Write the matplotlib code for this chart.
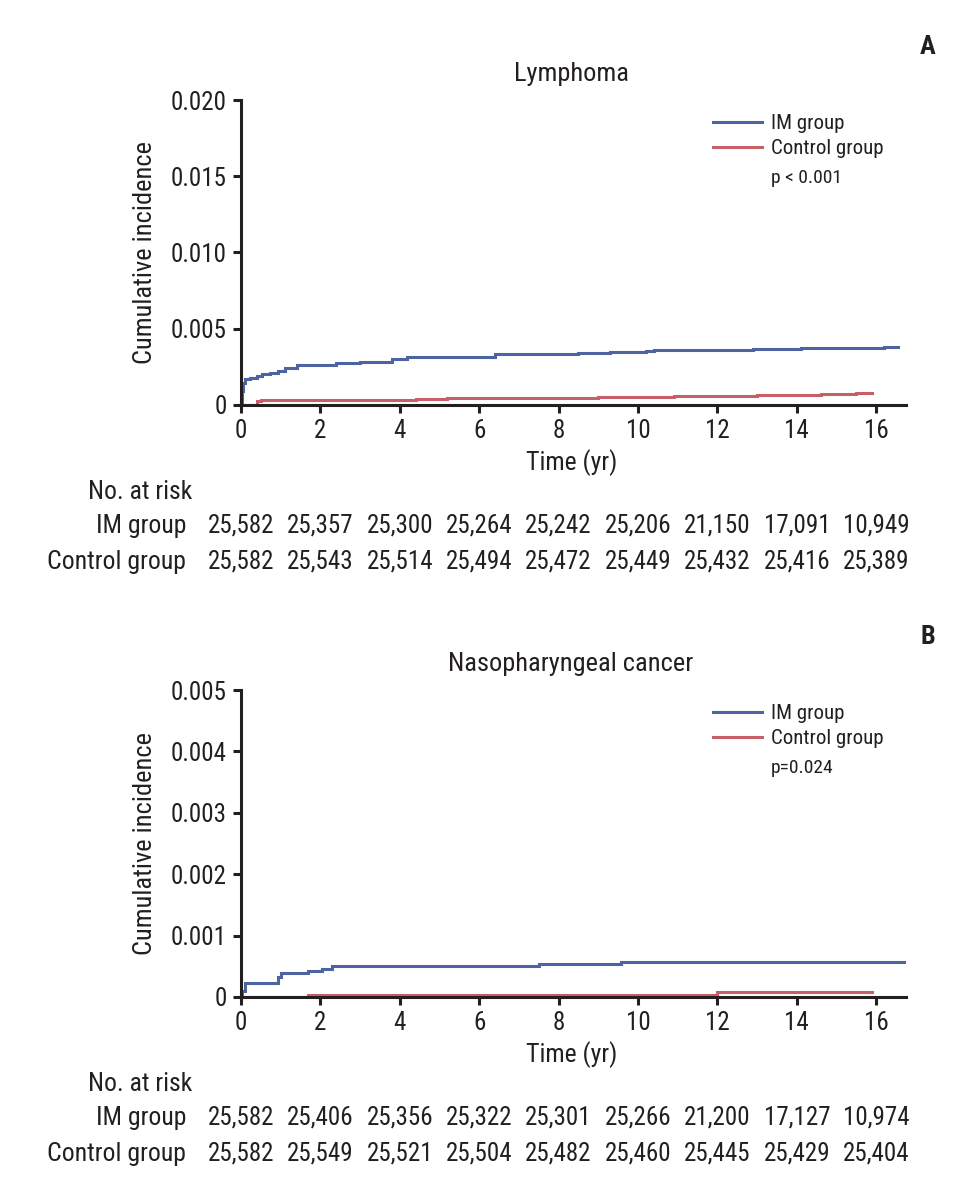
"""
Cumulative incidence of lymphoma and nasopharyngeal cancer, IM vs control group.
"""
import matplotlib
matplotlib.use('Agg')
import matplotlib.pyplot as plt
from matplotlib.transforms import blended_transform_factory
from matplotlib.ticker import FuncFormatter

plt.rcParams['font.family'] = ['Roboto Condensed', 'DejaVu Sans']
plt.rcParams['font.stretch'] = 'condensed'

BLUE = '#4e64a0'
RED = '#c65f68'
INK = '#231f20'

# ---- Panel A: lymphoma (step curves) ----
a_im_t = [0, 0.02, 0.05, 0.1, 0.23, 0.4, 0.52, 0.73, 0.94, 1.1, 1.4, 2.4, 3.0,
          3.8, 4.17, 4.9, 6.4, 8.5, 9.3, 10.2, 10.4, 12.9, 14.1, 16.2, 16.55]
a_im_y = [0, 0.0009, 0.00146, 0.00168, 0.00178, 0.00193, 0.0020, 0.0021, 0.0022,
          0.0024, 0.0026, 0.00277, 0.0028, 0.0030, 0.00314, 0.00317, 0.00332,
          0.00343, 0.00348, 0.00354, 0.0036, 0.00367, 0.00376, 0.00382, 0.00382]
a_ctrl_t = [0, 0.4, 0.5, 4.4, 5.2, 9.0, 10.9, 13.0, 14.6, 15.5, 15.9]
a_ctrl_y = [0, 0.00029, 0.00035, 0.00042, 0.00048, 0.00055, 0.00061, 0.00068,
            0.00074, 0.0008, 0.0008]
a_risk_im = ['25,582', '25,357', '25,300', '25,264', '25,242', '25,206',
             '21,150', '17,091', '10,949']
a_risk_ctrl = ['25,582', '25,543', '25,514', '25,494', '25,472', '25,449',
               '25,432', '25,416', '25,389']

# ---- Panel B: nasopharyngeal cancer ----
b_im_t = [0, 0.03, 0.1, 0.94, 1.0, 1.7, 2.03, 2.28, 4.1, 7.5, 9.57, 16.75]
b_im_y = [0, 0.00009, 0.00022, 0.00033, 0.00039, 0.00043, 0.00046, 0.0005,
          0.00051, 0.00054, 0.00057, 0.00057]
b_ctrl_t = [0, 1.7, 12.0, 15.9]
b_ctrl_y = [0, 0.00004, 0.00008, 0.00008]
b_risk_im = ['25,582', '25,406', '25,356', '25,322', '25,301', '25,266',
             '21,200', '17,127', '10,974']
b_risk_ctrl = ['25,582', '25,549', '25,521', '25,504', '25,482', '25,460',
               '25,445', '25,429', '25,404']

risk_times = [0, 2, 4, 6, 8, 10, 12, 14, 16]

W, H = 970, 1195
fig = plt.figure(figsize=(W / 100, H / 100), dpi=100)
FS = 15


def px(x, y):
    return x / W, 1 - y / H


def panel(top, bottom, ymax, ystep, curves, title, letter, ptext, risk_im,
          risk_ctrl):
    left, right = 241, 906
    ax = fig.add_axes([left / W, 1 - bottom / H, (right - left) / W,
                       (bottom - top) / H])
    for t, y, c, lab in curves:
        ax.plot(t, y, drawstyle='steps-post', color=c, lw=2.2, label=lab,
                solid_joinstyle='miter')
    ax.set_xlim(0, 16.75)
    ax.set_ylim(0, ymax)
    ax.set_xticks(range(0, 17, 2))
    ax.set_yticks([ystep * i for i in range(int(round(ymax / ystep)) + 1)])
    ax.yaxis.set_major_formatter(
        FuncFormatter(lambda v, p: '0' if abs(v) < 1e-12 else f'{v:.3f}'))
    for s in ('top', 'right'):
        ax.spines[s].set_visible(False)
    for s in ('left', 'bottom'):
        ax.spines[s].set_linewidth(2.2)
        ax.spines[s].set_color(INK)
    ax.tick_params(length=6, width=2.2, color=INK, labelsize=18,
                   labelcolor=INK, pad=4)

    leg = ax.legend(loc='upper left', bbox_to_anchor=px(713, top + 14),
                    bbox_transform=fig.transFigure, frameon=False,
                    fontsize=FS, handlelength=2.35, handletextpad=0.45,
                    labelspacing=0.3, borderpad=0, borderaxespad=0)
    for txt in leg.get_texts():
        txt.set_color(INK)
    fig.text(*px(771, top + 78), ptext, fontsize=FS - 1, ha='left',
             va='center', color=INK)

    fig.text(*px(571, top - 26), title, fontsize=19, ha='center',
             va='center', color=INK)
    fig.text(*px(928, top - 53), letter, fontsize=FS + 4, ha='center',
             va='center', fontweight='bold', color=INK)
    fig.text(*px(145, (top + bottom) / 2), 'Cumulative incidence',
             fontsize=19, rotation=90, ha='center', va='center',
             color=INK)
    fig.text(*px(572, bottom + 58), 'Time (yr)', fontsize=18.5,
             ha='center', va='center', color=INK)

    # number-at-risk table, columns aligned to the x ticks
    tr = blended_transform_factory(ax.transData, fig.transFigure)
    fig.text(*px(192, bottom + 87), 'No. at risk', fontsize=18.5,
             ha='right', va='center', color=INK)
    for row_y, lab, vals in ((bottom + 121, 'IM group', risk_im),
                             (bottom + 157, 'Control group', risk_ctrl)):
        fig.text(*px(186, row_y), lab, fontsize=18.5, ha='right',
                 va='center', color=INK)
        for t, v in zip(risk_times, vals):
            ax.text(t, 1 - row_y / H, v, transform=tr, fontsize=18,
                    ha='center', va='center', color=INK)
    return ax


panel(100, 405, 0.020, 0.005,
      [(a_im_t, a_im_y, BLUE, 'IM group'),
       (a_ctrl_t, a_ctrl_y, RED, 'Control group')],
      'Lymphoma', 'A', 'p < 0.001', a_risk_im, a_risk_ctrl)

panel(690, 997, 0.005, 0.001,
      [(b_im_t, b_im_y, BLUE, 'IM group'),
       (b_ctrl_t, b_ctrl_y, RED, 'Control group')],
      'Nasopharyngeal cancer', 'B', 'p=0.024', b_risk_im, b_risk_ctrl)

fig.savefig('out.png', dpi=100)
